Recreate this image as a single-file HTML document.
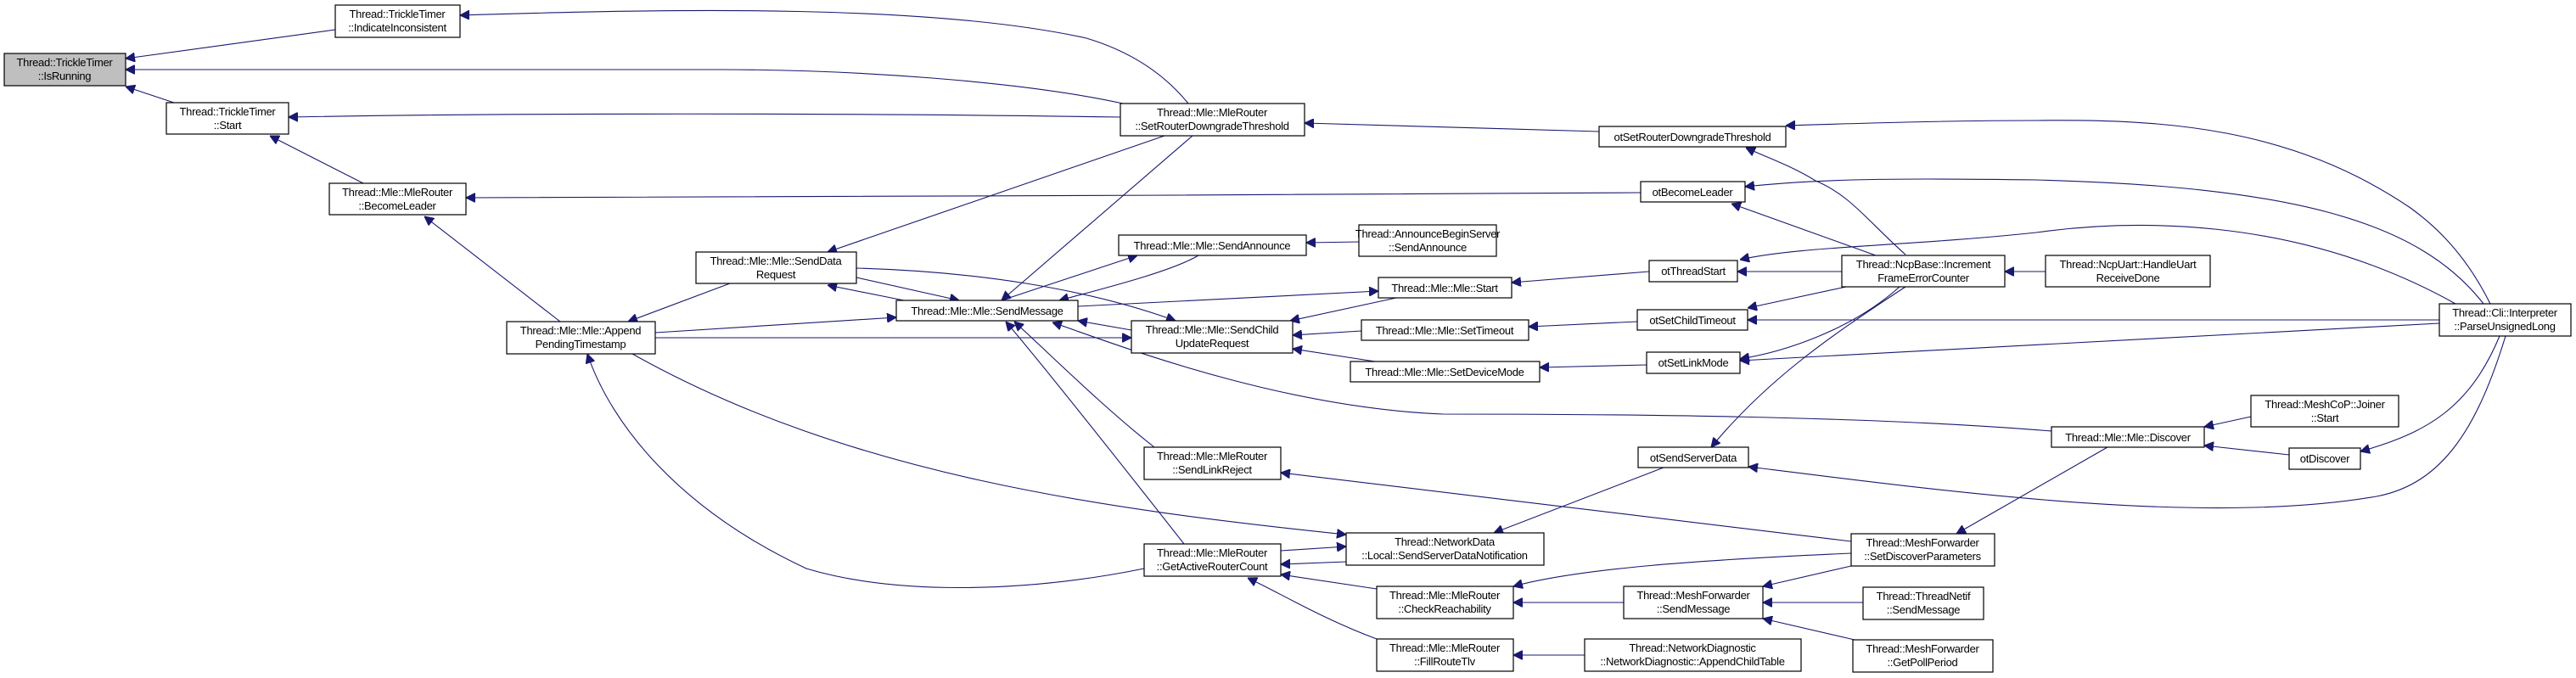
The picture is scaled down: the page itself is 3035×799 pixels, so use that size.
<!DOCTYPE html>
<html><head><meta charset="utf-8"><style>
html,body{margin:0;padding:0;background:#fff;}
svg{display:block;}
text{font-family:"Liberation Sans",Arial,sans-serif;font-size:13px;letter-spacing:-0.3px;fill:#000;text-anchor:middle;}
.n{fill:#fff;stroke:#000;stroke-width:1.2;}
.g{fill:#bfbfbf;stroke:#000;stroke-width:1.2;}
path.e{fill:none;stroke:#191970;stroke-width:1.1;}
</style></head><body>
<svg width="3035" height="799" viewBox="0 0 3035 799" xmlns="http://www.w3.org/2000/svg">
<defs><marker id="a" viewBox="0 0 10 10" refX="10" refY="5" markerWidth="11" markerHeight="11" markerUnits="userSpaceOnUse" orient="auto"><path d="M0,0 L10,5 L0,10 z" fill="#191970" stroke="#191970"/></marker></defs>
<g marker-end="url(#a)">
<path class="e" d="M395,35 L148,69"/>
<path class="e" d="M1323,122 C1200,95 1000,82 850,82 L148,82"/>
<path class="e" d="M205,121 L148,102"/>
<path class="e" d="M1400,122 C1370,85 1330,60 1280,45 C1100,5 800,10 542,18"/>
<path class="e" d="M1320,138 C1000,133 600,133 340,138"/>
<path class="e" d="M428,216 L318,160"/>
<path class="e" d="M1933,227 C1500,230 900,232 549,233"/>
<path class="e" d="M660,379 L500,255"/>
<path class="e" d="M1372,160 L975,297"/>
<path class="e" d="M1405,160 L1180,354"/>
<path class="e" d="M1884,155 L1537,145"/>
<path class="e" d="M860,334 L740,379"/>
<path class="e" d="M772,392 L1056,374"/>
<path class="e" d="M772,398 L1333,398"/>
<path class="e" d="M1009,327 L1130,354"/>
<path class="e" d="M1065,354 L975,336"/>
<path class="e" d="M1009,316 C1150,320 1280,340 1385,378"/>
<path class="e" d="M1180,354 L1340,301"/>
<path class="e" d="M1412,301 C1380,320 1300,340 1248,354"/>
<path class="e" d="M1601,285 L1539,286"/>
<path class="e" d="M1270,361 L1624,343"/>
<path class="e" d="M1645,351 L1520,378"/>
<path class="e" d="M1333,389 L1270,378"/>
<path class="e" d="M1604,390 L1523,395"/>
<path class="e" d="M1620,426 L1523,411"/>
<path class="e" d="M1940,430 L1814,433"/>
<path class="e" d="M1943,320 L1781,333"/>
<path class="e" d="M1929,379 L1801,385"/>
<path class="e" d="M2417,508 C2200,490 1900,488 1700,488 C1500,480 1300,400 1240,380"/>
<path class="e" d="M1360,527 C1300,480 1240,420 1195,379"/>
<path class="e" d="M1395,641 C1300,520 1220,420 1185,379"/>
<path class="e" d="M745,417 C1000,560 1300,600 1586,630"/>
<path class="e" d="M1348,670 C1200,700 1050,700 950,670 C800,600 720,500 692,417"/>
<path class="e" d="M1509,649 L1586,644"/>
<path class="e" d="M1586,662 L1509,665"/>
<path class="e" d="M1622,694 L1509,677"/>
<path class="e" d="M1622,753 C1560,730 1510,700 1470,681"/>
<path class="e" d="M1960,551 L1760,628"/>
<path class="e" d="M2181,638 L1509,557"/>
<path class="e" d="M2181,652 C2000,660 1860,670 1783,691"/>
<path class="e" d="M1913,710 L1783,710"/>
<path class="e" d="M1867,772 L1783,772"/>
<path class="e" d="M2181,667 L2077,691"/>
<path class="e" d="M2195,710 L2077,710"/>
<path class="e" d="M2185,754 L2077,729"/>
<path class="e" d="M2483,527 L2305,629"/>
<path class="e" d="M2652,491 L2597,503"/>
<path class="e" d="M2697,536 L2597,525"/>
<path class="e" d="M2945,396 C2910,480 2860,510 2781,532"/>
<path class="e" d="M2952,396 C2920,500 2880,570 2800,585 C2600,620 2300,580 2060,550"/>
<path class="e" d="M2245,338 C2150,400 2080,450 2016,527"/>
<path class="e" d="M2238,338 C2180,390 2100,415 2050,423"/>
<path class="e" d="M2874,381 L2050,425"/>
<path class="e" d="M2874,377 L2059,377"/>
<path class="e" d="M2175,338 L2059,363"/>
<path class="e" d="M2170,320 L2047,320"/>
<path class="e" d="M2893,358 C2700,250 2500,260 2399,274 C2250,290 2120,290 2050,306"/>
<path class="e" d="M2410,320 L2362,320"/>
<path class="e" d="M2210,301 L2040,240"/>
<path class="e" d="M2245,300 C2200,260 2180,230 2139,213 C2110,195 2080,185 2057,174"/>
<path class="e" d="M2926,358 C2850,260 2700,220 2399,212 C2250,210 2150,210 2056,220"/>
<path class="e" d="M2934,358 C2900,290 2860,260 2840,245 C2700,150 2550,140 2399,142 C2300,142 2200,145 2104,148"/>
</g>
<rect class="g" x="5" y="63" width="143" height="38"/><text x="76" y="78">Thread::TrickleTimer</text><text x="76" y="94">::IsRunning</text>
<rect class="n" x="395" y="6" width="147" height="38"/><text x="468" y="21">Thread::TrickleTimer</text><text x="468" y="37">::IndicateInconsistent</text>
<rect class="n" x="196" y="121" width="144" height="37"/><text x="268" y="136">Thread::TrickleTimer</text><text x="268" y="152">::Start</text>
<rect class="n" x="388" y="216" width="161" height="37"/><text x="468" y="231">Thread::Mle::MleRouter</text><text x="468" y="247">::BecomeLeader</text>
<rect class="n" x="597" y="379" width="175" height="38"/><text x="684" y="394">Thread::Mle::Mle::Append</text><text x="684" y="410">PendingTimestamp</text>
<rect class="n" x="1320" y="122" width="217" height="38"/><text x="1428" y="137">Thread::Mle::MleRouter</text><text x="1428" y="153">::SetRouterDowngradeThreshold</text>
<rect class="n" x="820" y="297" width="189" height="37"/><text x="914" y="312">Thread::Mle::Mle::SendData</text><text x="914" y="328">Request</text>
<rect class="n" x="1056" y="354" width="214" height="24"/><text x="1163" y="371">Thread::Mle::Mle::SendMessage</text>
<rect class="n" x="1318" y="277" width="221" height="24"/><text x="1428" y="294">Thread::Mle::Mle::SendAnnounce</text>
<rect class="n" x="1601" y="265" width="162" height="37"/><text x="1682" y="280">Thread::AnnounceBeginServer</text><text x="1682" y="296">::SendAnnounce</text>
<rect class="n" x="1624" y="327" width="157" height="24"/><text x="1702" y="344">Thread::Mle::Mle::Start</text>
<rect class="n" x="1604" y="377" width="197" height="24"/><text x="1702" y="394">Thread::Mle::Mle::SetTimeout</text>
<rect class="n" x="1333" y="378" width="190" height="38"/><text x="1428" y="393">Thread::Mle::Mle::SendChild</text><text x="1428" y="409">UpdateRequest</text>
<rect class="n" x="1591" y="426" width="223" height="24"/><text x="1702" y="443">Thread::Mle::Mle::SetDeviceMode</text>
<rect class="n" x="1348" y="527" width="161" height="38"/><text x="1428" y="542">Thread::Mle::MleRouter</text><text x="1428" y="558">::SendLinkReject</text>
<rect class="n" x="1586" y="628" width="233" height="38"/><text x="1702" y="643">Thread::NetworkData</text><text x="1702" y="659">::Local::SendServerDataNotification</text>
<rect class="n" x="1348" y="641" width="161" height="38"/><text x="1428" y="656">Thread::Mle::MleRouter</text><text x="1428" y="672">::GetActiveRouterCount</text>
<rect class="n" x="1622" y="691" width="161" height="38"/><text x="1702" y="706">Thread::Mle::MleRouter</text><text x="1702" y="722">::CheckReachability</text>
<rect class="n" x="1622" y="753" width="161" height="38"/><text x="1702" y="768">Thread::Mle::MleRouter</text><text x="1702" y="784">::FillRouteTlv</text>
<rect class="n" x="1867" y="753" width="255" height="38"/><text x="1994" y="768">Thread::NetworkDiagnostic</text><text x="1994" y="784">::NetworkDiagnostic::AppendChildTable</text>
<rect class="n" x="1930" y="527" width="130" height="24"/><text x="1995" y="544">otSendServerData</text>
<rect class="n" x="1940" y="415" width="110" height="25"/><text x="1995" y="432">otSetLinkMode</text>
<rect class="n" x="1913" y="691" width="164" height="38"/><text x="1995" y="706">Thread::MeshForwarder</text><text x="1995" y="722">::SendMessage</text>
<rect class="n" x="2652" y="466" width="174" height="37"/><text x="2739" y="481">Thread::MeshCoP::Joiner</text><text x="2739" y="497">::Start</text>
<rect class="n" x="2417" y="503" width="180" height="24"/><text x="2507" y="520">Thread::Mle::Mle::Discover</text>
<rect class="n" x="2697" y="528" width="84" height="25"/><text x="2739" y="545">otDiscover</text>
<rect class="n" x="2181" y="629" width="169" height="38"/><text x="2265" y="644">Thread::MeshForwarder</text><text x="2265" y="660">::SetDiscoverParameters</text>
<rect class="n" x="2195" y="692" width="142" height="38"/><text x="2266" y="707">Thread::ThreadNetif</text><text x="2266" y="723">::SendMessage</text>
<rect class="n" x="2183" y="754" width="165" height="38"/><text x="2265" y="769">Thread::MeshForwarder</text><text x="2265" y="785">::GetPollPeriod</text>
<rect class="n" x="1884" y="149" width="220" height="24"/><text x="1994" y="166">otSetRouterDowngradeThreshold</text>
<rect class="n" x="1933" y="214" width="123" height="24"/><text x="1994" y="231">otBecomeLeader</text>
<rect class="n" x="1943" y="307" width="104" height="25"/><text x="1995" y="324">otThreadStart</text>
<rect class="n" x="2170" y="301" width="192" height="37"/><text x="2266" y="316">Thread::NcpBase::Increment</text><text x="2266" y="332">FrameErrorCounter</text>
<rect class="n" x="2410" y="301" width="194" height="37"/><text x="2507" y="316">Thread::NcpUart::HandleUart</text><text x="2507" y="332">ReceiveDone</text>
<rect class="n" x="1929" y="365" width="130" height="24"/><text x="1994" y="382">otSetChildTimeout</text>
<rect class="n" x="2874" y="358" width="155" height="38"/><text x="2951" y="373">Thread::Cli::Interpreter</text><text x="2951" y="389">::ParseUnsignedLong</text>
</svg>
</body></html>
